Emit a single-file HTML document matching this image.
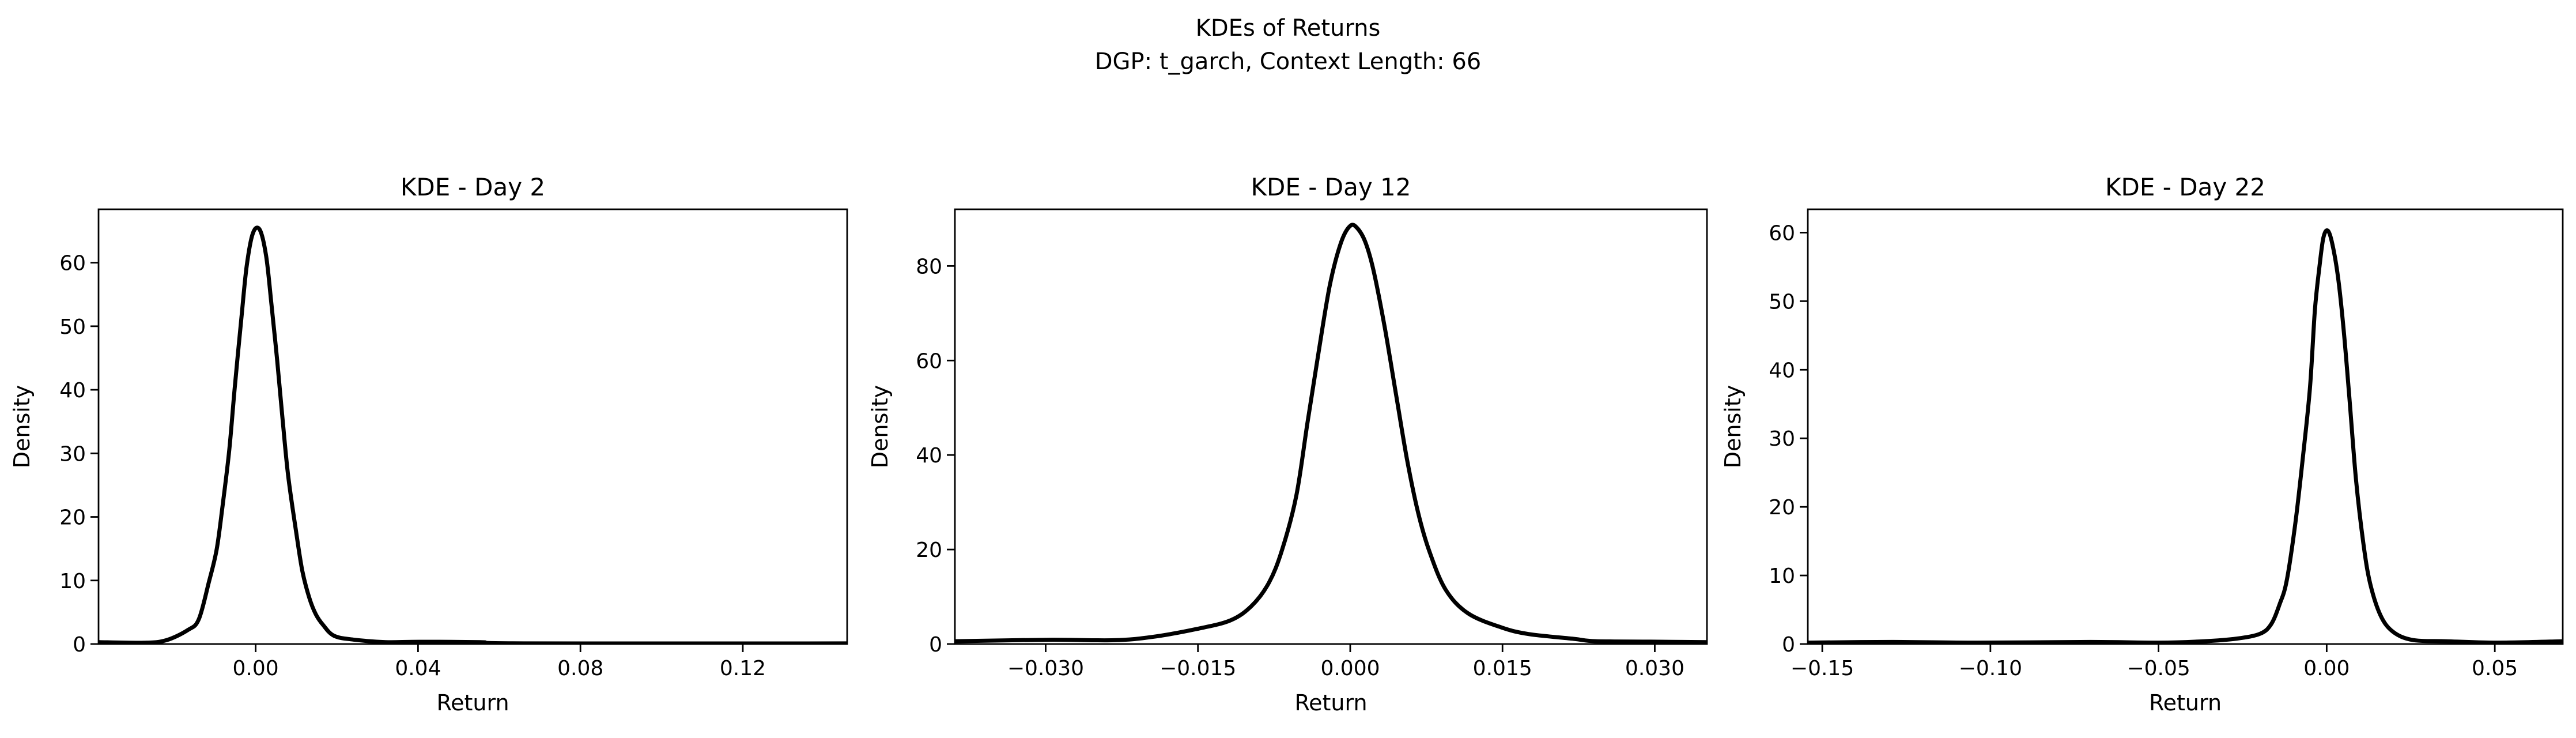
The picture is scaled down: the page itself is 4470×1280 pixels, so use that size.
<!DOCTYPE html>
<html><head><meta charset="utf-8"><style>
html,body{margin:0;padding:0;background:#fff;}
svg text{font-family:"DejaVu Sans","Liberation Sans",sans-serif;fill:#000;}
</style></head><body>
<svg id="fig" xmlns="http://www.w3.org/2000/svg" width="4470" height="1275" viewBox="0 0 4470 1275">
<rect width="4470" height="1275" fill="#fff"/>
<text x="2235" y="62" text-anchor="middle" font-size="40">KDEs of Returns</text>
<text x="2235" y="120" text-anchor="middle" font-size="40">DGP: t_garch, Context Length: 66</text>
</svg>
<script>
// Panel 1 data (Day 2)
const day2X = [-0.0387,-0.0275,-0.022,-0.0167,-0.014,-0.0115,-0.0096,-0.0081,-0.0065,-0.0052,-0.0035,-0.0022,-0.0007,0.001,0.0026,0.0039,0.0053,0.0066,0.008,0.010,0.0115,0.0132,0.0148,0.0166,0.0193,0.024,0.032,0.0403,0.0552,0.066,0.1457];
const day2Y = [0.3,0.2,0.6,2.2,3.9,9.8,14.9,22,30.5,40,51.4,59.5,64.6,65.2,61,53.4,44.6,35.6,26.5,17.5,11.5,7.3,4.7,3.0,1.3,0.7,0.3,0.35,0.3,0.1,0.1];
const day2XTicks = [0.00,0.04,0.08,0.12];
const day2XTickLabels = ["0.00","0.04","0.08","0.12"];
const day2YTicks = [0,10,20,30,40,50,60];
// Panel 2 data (Day 12)
const day12X = [-0.039,-0.0294,-0.0233,-0.0195,-0.0151,-0.0118,-0.0097,-0.008,-0.0067,-0.0053,-0.0042,-0.0031,-0.002,-0.0009,0,0.0007,0.0015,0.0023,0.0034,0.0045,0.0056,0.0067,0.0078,0.0094,0.0116,0.0149,0.0176,0.022,0.0242,0.0296,0.0352];
const day12Y = [0.6,0.9,0.8,1.5,3.2,5,8.1,13,20,31.5,47,62,76,85,88.5,88,85,79,67,53,39,27.7,19.6,11.5,6.5,3.5,2.1,1.1,0.6,0.5,0.4];
const day12XTicks = [-0.030,-0.015,0,0.015,0.030];
const day12XTickLabels = ["\u22120.030","\u22120.015","0.000","0.015","0.030"];
const day12YTicks = [0,20,40,60,80];
// Panel 3 data (Day 22)
const day22X = [-0.1548,-0.129,-0.1039,-0.0703,-0.05,-0.0366,-0.0266,-0.0198,-0.0165,-0.014,-0.0119,-0.0094,-0.0072,-0.005,-0.0035,-0.0022,-0.001,0.0003,0.0017,0.0034,0.005,0.0067,0.0087,0.0109,0.0129,0.016,0.0197,0.0255,0.0356,0.0508,0.0704];
const day22Y = [0.2,0.3,0.2,0.3,0.2,0.4,0.8,1.5,2.9,5.8,9.2,17.3,26.7,37.2,48.7,54.8,59.2,60.3,58.3,53.4,46.1,36.2,24.1,14.7,8.9,4.2,1.8,0.6,0.4,0.2,0.4];
const day22XTicks = [-0.15,-0.10,-0.05,0,0.05];
const day22XTickLabels = ["\u22120.15","\u22120.10","\u22120.05","0.00","0.05"];
const day22YTicks = [0,10,20,30,40,50,60];

const NS = "http://www.w3.org/2000/svg";
const fig = document.getElementById('fig');
function mk(tag, attrs, parent){const e=document.createElementNS(NS,tag);for(const k in attrs)e.setAttribute(k,attrs[k]);(parent||fig).appendChild(e);return e;}
function smoothPath(P){
  let d='M'+P[0][0].toFixed(1)+','+P[0][1].toFixed(1);
  for(let i=0;i<P.length-1;i++){
    const p0=P[i-1]||P[i], p1=P[i], p2=P[i+1], p3=P[i+2]||P[i+1];
    const c1=[p1[0]+(p2[0]-p0[0])/6, p1[1]+(p2[1]-p0[1])/6];
    const c2=[p2[0]-(p3[0]-p1[0])/6, p2[1]-(p3[1]-p1[1])/6];
    d+=' C'+c1[0].toFixed(1)+','+c1[1].toFixed(1)+' '+c2[0].toFixed(1)+','+c2[1].toFixed(1)+' '+p2[0].toFixed(1)+','+p2[1].toFixed(1);
  }
  return d;
}

const panels = [
 {key:'day-2',title:'KDE - Day 2',L:171,R:1470,T:363,B:1117,xmin:-0.0387,xmax:0.1457,ymax:68.4,xs:day2X,ys:day2Y,xt:day2XTicks,xtl:day2XTickLabels,yt:day2YTicks,ylx:51},
 {key:'day-12',title:'KDE - Day 12',L:1657,R:2962,T:363,B:1117,xmin:-0.03894,xmax:0.03514,ymax:92.0,xs:day12X,ys:day12Y,xt:day12XTicks,xtl:day12XTickLabels,yt:day12YTicks,ylx:1540},
 {key:'day-22',title:'KDE - Day 22',L:3137,R:4447,T:363,B:1117,xmin:-0.1543,xmax:0.0702,ymax:63.4,xs:day22X,ys:day22Y,xt:day22XTicks,xtl:day22XTickLabels,yt:day22YTicks,ylx:3020}
];

panels.forEach(p=>{
  const g = mk('g',{});
  
  
  const sx = v => p.L + (v - p.xmin)/(p.xmax - p.xmin)*(p.R - p.L);
  const sy = v => p.B - v/p.ymax*(p.B - p.T);
  const t = mk('text',{x:(p.L+p.R)/2,y:p.T-24,'text-anchor':'middle','font-size':42},g);
  t.textContent = p.title;
  
  
  const clip = mk('clipPath',{id:'clip-'+p.key},g);
  mk('rect',{x:p.L,y:p.T,width:p.R-p.L,height:p.B-p.T},clip);
  const P = p.xs.map((x,i)=>[sx(x), sy(p.ys[i])]);
  const line = mk('path',{d:smoothPath(P),fill:'none',stroke:'#000','stroke-width':7,'stroke-linejoin':'round','stroke-linecap':'round','clip-path':'url(#clip-'+p.key+')'},g);
  
  
  const fr = mk('rect',{x:p.L,y:p.T,width:p.R-p.L,height:p.B-p.T,fill:'none',stroke:'#000','stroke-width':2.8},g);
  
  
  p.xt.forEach((v,i)=>{
    const x = sx(v);
    mk('line',{x1:x,x2:x,y1:p.B,y2:p.B+14,stroke:'#000','stroke-width':2.8},g);
    const tl = mk('text',{x:x,y:p.B+54,'text-anchor':'middle','font-size':36},g);
    tl.textContent = p.xtl[i];
    
    
  });
  p.yt.forEach(v=>{
    const y = sy(v);
    mk('line',{x1:p.L-14,x2:p.L,y1:y,y2:y,stroke:'#000','stroke-width':2.8},g);
    const tl = mk('text',{x:p.L-22,y:y+13,'text-anchor':'end','font-size':36},g);
    tl.textContent = String(v);
    
    
  });
  const xl = mk('text',{x:(p.L+p.R)/2,y:p.B+115,'text-anchor':'middle','font-size':38},g);
  xl.textContent = 'Return';
  
  
  const yl = mk('text',{x:p.ylx,y:(p.T+p.B)/2,'text-anchor':'middle','font-size':38,transform:'rotate(-90 '+p.ylx+' '+((p.T+p.B)/2)+')'},g);
  yl.textContent = 'Density';
  
  
});
</script>
</body></html>
